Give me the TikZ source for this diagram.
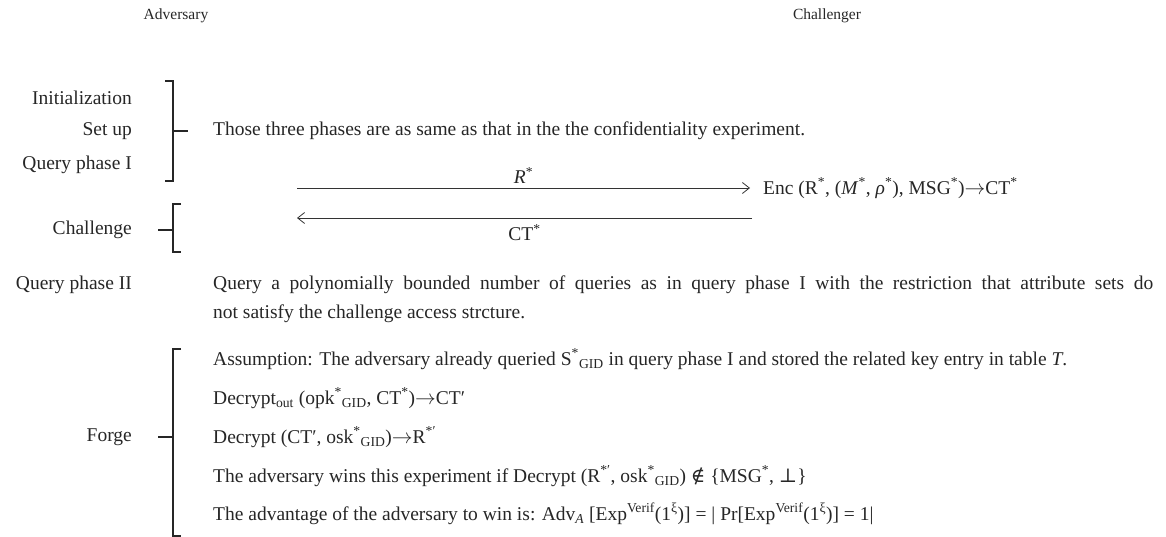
\documentclass[tikz,border=0pt]{standalone}
\usepackage{fontspec}
\setmainfont{Liberation Serif}
\newfontfamily\symfnt{DejaVu Serif}
\usetikzlibrary{arrows.meta}
\newcommand{\ra}{\ensuremath{\rightarrow}}
\begin{document}
\begin{tikzpicture}[x=1pt,y=-1pt,
  txt/.style={font=\fontsize{19.5}{22}\selectfont, inner sep=0pt, text=black!85},
  head/.style={font=\fontsize{15.5}{19}\selectfont, inner sep=0pt, text=black!85},
  lbl/.style={txt, anchor=east},
  body/.style={txt, anchor=west},
  brk/.style={line width=1.4pt, black!85},
  msg/.style={line width=0.8pt, black!80, -{Straight Barb[length=7pt,width=11pt,line width=0.8pt]}}
]
\useasboundingbox (0,0) rectangle (1166,537);
% headers
\node[head] (adv) at (176,16) {Adversary};
\node[head] (chl) at (827,16) {Challenger};
% first group
\node[lbl] (init) at (132,98) {Initialization};
\node[lbl] (setup) at (132,131) {Set up};
\node[lbl] (q1) at (132,165) {Query phase I};
\draw[brk] (165,81) -- (173,81) -- (173,181) -- (165,181);
\draw[brk] (173,131) -- (188,131);
\node[body] (same) at (213,131) {Those three phases are as same as that in the the confidentiality experiment.};
% challenge
\node[lbl] (chal) at (132,230) {Challenge};
\draw[brk] (181,204) -- (173,204) -- (173,252) -- (181,252);
\draw[brk] (158,230) -- (173,230);
\coordinate (advR) at (297,188);
\coordinate (advC) at (297,218);
\coordinate (chR) at (750,188);
\coordinate (chC) at (752,218);
\node[body] (enc) at (763,188) {Enc (R\textsuperscript{*}, (\textit{M}\textsuperscript{*}, \textit{ρ}\textsuperscript{*}), MSG\textsuperscript{*})\ra CT\textsuperscript{*}};
\draw[msg] (advR) -- node[txt, above=4pt] (rs) {\textit{R}\textsuperscript{*}} (chR);
\draw[msg] (chC) -- node[txt, below=6pt] (cts) {CT\textsuperscript{*}} (advC);
% query phase II
\node[lbl] (q2) at (132,285) {Query phase II};
\node[body] (q2a) at (213,285) {\makebox[940pt][s]{Query a polynomially bounded number of queries as in query phase I with the restriction that attribute sets do}};
\node[body] (q2b) at (213,314) {not satisfy the challenge access strcture.};
% forge
\node[lbl] (forge) at (132,437) {Forge};
\draw[brk] (181,349) -- (173,349) -- (173,536) -- (181,536);
\draw[brk] (158,437) -- (173,437);
\node[body] (f1) at (213,359) {Assumption: The adversary already queried S\textsuperscript{*}\textsubscript{GID} in query phase I and stored the related key entry in table \textit{T}.};
\node[body] (f2) at (213,398) {Decrypt\textsubscript{out} (opk\textsuperscript{*}\textsubscript{GID}, CT\textsuperscript{*})\ra CT′};
\node[body] (f3) at (213,437) {Decrypt (CT′, osk\textsuperscript{*}\textsubscript{GID})\ra R\textsuperscript{*′}};
\node[body] (f4) at (213,476) {The adversary wins this experiment if Decrypt (R\textsuperscript{*′}, osk\textsuperscript{*}\textsubscript{GID}) {\symfnt ∉} \{MSG\textsuperscript{*}, {\symfnt ⊥}\}};
\node[body] (f5) at (213,514) {The advantage of the adversary to win is: Adv\textsubscript{\textit{A}} [Exp\textsuperscript{Verif}(1\textsuperscript{ξ})] = | Pr[Exp\textsuperscript{Verif}(1\textsuperscript{ξ})] = 1|};
\end{tikzpicture}
\end{document}
